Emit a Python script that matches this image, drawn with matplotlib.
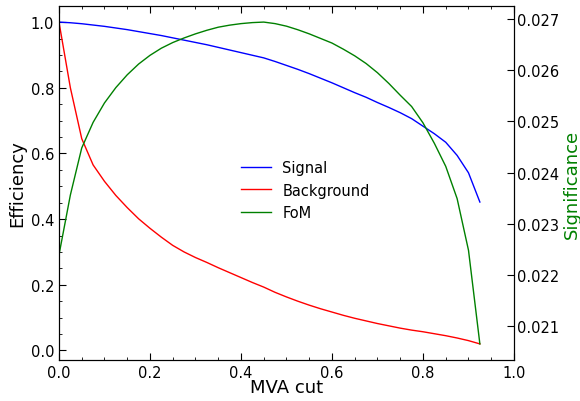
import matplotlib
matplotlib.use("Agg")
import matplotlib.pyplot as plt
from matplotlib.ticker import MultipleLocator

mva_cut = [0.0, 0.025, 0.05, 0.075, 0.1, 0.125, 0.15, 0.175, 0.2, 0.225,
           0.25, 0.275, 0.3, 0.325, 0.35, 0.375, 0.4, 0.425, 0.45, 0.475,
           0.5, 0.525, 0.55, 0.575, 0.6, 0.625, 0.65, 0.675, 0.7, 0.725,
           0.75, 0.775, 0.8, 0.825, 0.85, 0.875, 0.9, 0.925]

signal_eff = [1.000, 0.998, 0.995, 0.991, 0.987, 0.982, 0.977, 0.971, 0.965, 0.959,
              0.952, 0.945, 0.938, 0.931, 0.923, 0.915, 0.907, 0.899, 0.891, 0.880,
              0.868, 0.856, 0.843, 0.829, 0.815, 0.800, 0.785, 0.771, 0.755, 0.740,
              0.724, 0.706, 0.683, 0.660, 0.634, 0.594, 0.541, 0.452]

background_eff = [1.000, 0.800, 0.645, 0.565, 0.515, 0.472, 0.435, 0.401, 0.372, 0.345,
                  0.320, 0.300, 0.283, 0.268, 0.252, 0.237, 0.222, 0.207, 0.193, 0.177,
                  0.163, 0.150, 0.138, 0.127, 0.117, 0.107, 0.098, 0.090, 0.082, 0.075,
                  0.068, 0.062, 0.057, 0.051, 0.045, 0.038, 0.030, 0.020]

fom = [0.022390, 0.023560, 0.024480, 0.024980, 0.025360, 0.025660, 0.025910, 0.026120,
       0.026290, 0.026430, 0.026540, 0.026630, 0.026710, 0.026780, 0.026840, 0.026880,
       0.026910, 0.026930, 0.026940, 0.026910, 0.026860, 0.026790, 0.026710, 0.026620,
       0.026530, 0.026410, 0.026280, 0.026130, 0.025950, 0.025740, 0.025510, 0.025290,
       0.024970, 0.024570, 0.024120, 0.023490, 0.022480, 0.020650]

fig = plt.figure(figsize=(5.8, 4.02), dpi=100)
ax = fig.add_axes([0.1017, 0.102, 0.7845, 0.8806])
ax2 = ax.twinx()

l1, = ax.plot(mva_cut, signal_eff, color='b', lw=1.0, label='Signal')
l2, = ax.plot(mva_cut, background_eff, color='r', lw=1.0, label='Background')
l3, = ax2.plot(mva_cut, fom, color='g', lw=1.0, label='FoM')

ax.set_xlim(0, 1.0)
ax.xaxis.set_major_locator(MultipleLocator(0.2))
ax.xaxis.set_minor_locator(MultipleLocator(0.05))
ax.yaxis.set_major_locator(MultipleLocator(0.2))
ax.yaxis.set_minor_locator(MultipleLocator(0.05))
ax.tick_params(which='both', direction='in', top=True, right=False, labelsize=10.5)
ax.tick_params(which='major', length=5)
ax.tick_params(which='minor', length=2.5)
ax2.tick_params(which='both', direction='in', labelsize=10.5, length=5, pad=2)
ax2.yaxis.set_major_locator(MultipleLocator(0.001))

ax.set_xlabel('MVA cut', fontsize=13, labelpad=-1)
ax.set_ylabel('Efficiency', fontsize=13, labelpad=3)
ax2.set_ylabel('Significance', fontsize=13, color='g', labelpad=3)

ax.legend([l1, l2, l3], ['Signal', 'Background', 'FoM'], loc='center',
          bbox_to_anchor=(0.542, 0.48), frameon=False, fontsize=10.5)

fig.savefig('out.png', dpi=100)
